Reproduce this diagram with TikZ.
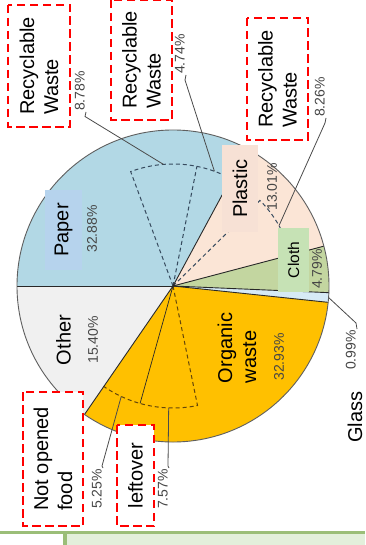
\documentclass[tikz,border=0pt]{standalone}
\usepackage{fontspec}
\setmainfont{Liberation Sans}
\definecolor{paperc}{RGB}{178,216,229}
\definecolor{paperbox}{RGB}{182,211,237}
\definecolor{plasticc}{RGB}{251,229,214}
\definecolor{plasticbox}{RGB}{247,225,213}
\definecolor{clothc}{RGB}{195,214,160}
\definecolor{clothbox}{RGB}{198,226,181}
\definecolor{glassc}{RGB}{214,234,246}
\definecolor{organicc}{RGB}{255,192,0}
\definecolor{otherc}{RGB}{240,240,240}
\definecolor{edgec}{RGB}{40,40,40}
\definecolor{rimc}{RGB}{95,95,95}
\definecolor{pctc}{RGB}{70,70,70}
\definecolor{leadc}{RGB}{75,75,75}
\definecolor{dashblue}{RGB}{55,75,95}
\definecolor{dashbrown}{RGB}{100,70,10}
\definecolor{redc}{RGB}{255,0,0}
\definecolor{stripline}{RGB}{155,190,120}
\definecolor{stripfill}{RGB}{227,239,219}

\begin{document}
\begin{tikzpicture}[x=1pt,y=-1pt,
  pct/.style={rotate=90,font=\fontsize{14}{16}\selectfont,text=pctc,inner sep=1pt},
  big/.style={rotate=90,font=\fontsize{20}{24}\selectfont,align=left,inner sep=0pt},
  tagbox/.style={rotate=90,font=\fontsize{20}{24}\selectfont,align=left,inner sep=0pt,
    draw=redc,fill=white,line width=2.9pt,dash pattern=on 8.5pt off 4.5pt},
  catbox/.style={rotate=90,font=\fontsize{20}{24}\selectfont,inner sep=0pt},
  edge/.style={draw=edgec,line width=0.9pt},
  rim/.style={draw=rimc,line width=0.9pt},
  leader/.style={draw=leadc,line width=0.8pt},
  dashsub/.style={dash pattern=on 4pt off 3pt,line width=1pt},
]
\useasboundingbox (0,0) rectangle (365,545);
\fill[white] (0,0) rectangle (365,545);

% strip along the bottom edge
\fill[stripfill] (65,533) rectangle (365,545);
\draw[stripline,line width=3pt] (0,532) -- (365,532);
\draw[stripline,line width=3.5pt] (65,532) -- (65,545);

% pie chart, centred, radius 156
\begin{scope}[shift={(173,286)},y=1pt]
  \fill[paperc]   (0,0) -- (180:156) arc[start angle=180,end angle=61.632,radius=156] -- cycle;
  \fill[plasticc] (0,0) -- (61.632:156) arc[start angle=61.632,end angle=14.796,radius=156] -- cycle;
  \fill[clothc]   (0,0) -- (14.796:156) arc[start angle=14.796,end angle=-2.448,radius=156] -- cycle;
  \fill[glassc]   (0,0) -- (-2.448:156) arc[start angle=-2.448,end angle=-6.012,radius=156] -- cycle;
  \fill[organicc] (0,0) -- (-6.012:156) arc[start angle=-6.012,end angle=-124.56,radius=156] -- cycle;
  \fill[otherc]   (0,0) -- (-124.56:156) arc[start angle=-124.56,end angle=-180,radius=156] -- cycle;

  % recyclable parts of paper and plastic, edible parts of organic waste
  \draw[dashsub,dashblue] (0,0) -- (110.304:122) arc[start angle=110.304,end angle=61.632,radius=122];
  \draw[dashsub,dashblue] (0,0) -- (78.696:122);
  \draw[dashsub,dashblue] (0,0) -- (44.532:122) arc[start angle=44.532,end angle=14.796,radius=122];
  \draw[dashsub,dashbrown] (0,0) -- (-78.408:122) arc[start angle=-78.408,end angle=-124.56,radius=122];
  \draw[draw=edgec,line width=0.7pt] (0,0) -- (-105.66:122);

  % slice borders and rim
  \foreach \a in {180,61.632,14.796,-2.448,-6.012,-124.56}
    \draw[edge] (0,0) -- (\a:156);
  \draw[rim] (0,0) circle[radius=156];

  % leader anchors on the sub-slices
  \coordinate (p878) at (94.5:122);
  \coordinate (p474) at (70.16:122);
  \coordinate (p826) at (29.66:122);
  \coordinate (p525) at (-115.11:122);
  \coordinate (p757) at (-92.03:122);
  \coordinate (p099) at (-4.23:156);
\end{scope}

% percentage labels inside the slices
\node[pct] (l3288) at (92,229) {32.88\%};
\node[pct] (l1540) at (93,340) {15.40\%};
\node[pct] (l1301) at (272,187) {13.01\%};
\node[pct] (l479)  at (317,269) {4.79\%};
\node[pct] (l3293) at (279,357) {32.93\%};

% leader labels
\node[pct,anchor=south west] (l878) at (86,112) {8.78\%};
\node[pct,anchor=south west] (l474) at (186,75) {4.74\%};
\node[pct,anchor=south west] (l826) at (326,118) {8.26\%};
\node[pct,anchor=south east] (l099) at (357,329) {0.99\%};
\node[pct,anchor=south east] (l525) at (103,468) {5.25\%};
\node[pct,anchor=south east] (l757) at (169,468) {7.57\%};

\coordinate (e878) at (85,116.5);
\coordinate (e474) at (185,80);
\coordinate (e826) at (325,123);
\coordinate (e099) at (356,323);
\coordinate (e525) at (102,466);
\coordinate (e757) at (168,466);

\draw[leader] (p878) -- (e878) -- (l878.south west);
\draw[leader] (p474) -- (e474) -- (l474.south west);
\draw[leader] (p826) -- (e826) -- (l826.south west);
\draw[leader] (p099) -- (e099) -- (l099.south east);
\draw[leader] (p525) -- (e525) -- (l525.south east);
\draw[leader] (p757) -- (e757) -- (l757.south east);

% category labels
\node[catbox,fill=paperbox,minimum width=80,minimum height=37] (paper) at (63.5,230) {Paper};
\node[catbox,fill=plasticbox,minimum width=87,minimum height=36] (plastic) at (240,188.5) {Plastic};
\node[catbox,fill=clothbox,minimum width=64,minimum height=31,font=\fontsize{15.5}{18}\selectfont] (cloth) at (293.5,260) {Cloth};
\node[big] (other) at (63.5,340) {Other};
\node[big] (organic) at (237,348) {Organic\\waste};
\node[big] (glass) at (355,417) {Glass};

% dashed callout boxes
\node[tagbox,minimum width=122,minimum height=62] (rw1) at (39,66) {Recyclable\\Waste};
\node[tagbox,minimum width=120,minimum height=61] (rw2) at (141.5,60) {Recyclable\\Waste};
\node[tagbox,minimum width=122,minimum height=61] (rw3) at (277.5,79) {Recyclable\\Waste};
\node[tagbox,minimum width=134,minimum height=60] (nof) at (53,459) {Not opened\\food};
\node[tagbox,minimum width=101,minimum height=37] (left) at (135.5,475.5) {leftover};
\end{tikzpicture}
\end{document}
